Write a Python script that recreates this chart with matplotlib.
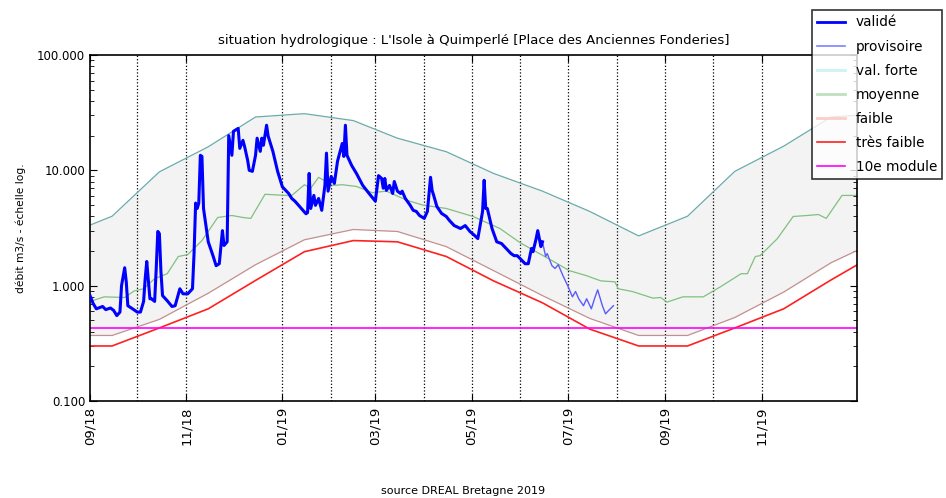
import matplotlib
matplotlib.use("Agg")
import matplotlib.pyplot as plt
import matplotlib.dates as mdates
from matplotlib.lines import Line2D
from matplotlib.ticker import FixedLocator, FormatStrFormatter, LogLocator, NullFormatter
import pandas as pd

# --- valeurs ---
valide_dates = [
    "2018-09-01", "2018-09-03", "2018-09-05", "2018-09-09", "2018-09-11", "2018-09-14",
    "2018-09-16", "2018-09-18", "2018-09-20", "2018-09-21", "2018-09-23", "2018-09-24",
    "2018-09-25", "2018-09-28", "2018-10-01", "2018-10-03", "2018-10-05", "2018-10-06",
    "2018-10-07", "2018-10-09", "2018-10-10", "2018-10-12", "2018-10-13", "2018-10-14",
    "2018-10-15", "2018-10-16", "2018-10-17", "2018-10-20", "2018-10-23", "2018-10-25",
    "2018-10-28", "2018-10-30", "2018-11-02", "2018-11-05", "2018-11-06", "2018-11-07",
    "2018-11-08", "2018-11-09", "2018-11-10", "2018-11-11", "2018-11-12", "2018-11-15",
    "2018-11-18", "2018-11-20", "2018-11-22", "2018-11-24", "2018-11-25", "2018-11-27",
    "2018-11-28", "2018-11-30", "2018-12-01", "2018-12-04", "2018-12-05", "2018-12-07",
    "2018-12-08", "2018-12-10", "2018-12-11", "2018-12-13", "2018-12-15", "2018-12-16",
    "2018-12-18", "2018-12-19", "2018-12-20", "2018-12-22", "2018-12-23", "2018-12-26",
    "2018-12-29", "2019-01-01", "2019-01-05", "2019-01-07", "2019-01-09", "2019-01-13",
    "2019-01-16", "2019-01-17", "2019-01-18", "2019-01-19", "2019-01-21", "2019-01-22",
    "2019-01-24", "2019-01-26", "2019-01-28", "2019-01-29", "2019-01-30", "2019-02-01",
    "2019-02-03", "2019-02-05", "2019-02-08", "2019-02-09", "2019-02-10", "2019-02-11",
    "2019-02-14", "2019-02-17", "2019-02-21", "2019-02-25", "2019-03-01", "2019-03-02",
    "2019-03-03", "2019-03-05", "2019-03-06", "2019-03-07", "2019-03-08", "2019-03-10",
    "2019-03-12", "2019-03-13", "2019-03-15", "2019-03-17", "2019-03-18", "2019-03-20",
    "2019-03-23", "2019-03-25", "2019-03-27", "2019-03-29", "2019-04-01", "2019-04-03",
    "2019-04-05", "2019-04-06", "2019-04-07", "2019-04-09", "2019-04-12", "2019-04-15",
    "2019-04-17", "2019-04-20", "2019-04-24", "2019-04-27", "2019-04-30", "2019-05-03",
    "2019-05-05", "2019-05-08", "2019-05-09", "2019-05-10", "2019-05-11", "2019-05-14",
    "2019-05-17", "2019-05-20", "2019-05-23", "2019-05-26", "2019-05-28", "2019-05-30",
    "2019-06-02", "2019-06-04", "2019-06-06", "2019-06-08", "2019-06-09", "2019-06-11",
    "2019-06-12", "2019-06-14", "2019-06-15",
]
valide_debit = [
    0.82, 0.70, 0.63, 0.66, 0.62, 0.64,
    0.61, 0.55, 0.59, 1.00, 1.43, 1.08,
    0.67, 0.63, 0.59, 0.59, 0.73, 1.15,
    1.62, 0.77, 0.77, 0.73, 1.40, 2.95,
    2.83, 1.32, 0.82, 0.74, 0.66, 0.67,
    0.94, 0.85, 0.85, 0.94, 1.90, 5.2,
    4.67, 5.2, 13.5, 13.2, 4.67, 2.4,
    1.82, 1.49, 1.55, 3.0, 2.23, 2.4,
    20.0, 13.5, 21.8, 23.1, 15.5, 18.2,
    16.2, 12.2, 10.0, 9.8, 13.5, 19.0,
    14.6, 19.0, 16.5, 24.6, 19.8, 14.6,
    9.8, 7.2, 6.3, 5.7, 5.4, 4.67,
    4.2, 4.3, 9.4, 4.67, 6.06, 4.97,
    5.7, 4.5, 7.4, 14.1, 6.6, 8.85,
    7.7, 12.0, 17.1, 13.2, 24.6, 13.5,
    11.0, 9.4, 7.4, 6.3, 5.4, 7.0,
    9.0, 8.5, 7.0, 8.5, 6.7, 7.4,
    6.3, 8.0, 6.6, 6.3, 6.6, 5.7,
    5.0, 4.5, 4.4, 4.06, 3.83, 4.4,
    8.7, 6.7, 6.06, 4.86, 4.23, 3.98,
    3.67, 3.32, 3.13, 3.32, 2.95, 2.72,
    2.56, 4.4, 8.2, 4.67, 4.67, 3.13,
    2.4, 2.32, 2.1, 1.9, 1.82, 1.82,
    1.65, 1.55, 1.55, 2.1, 1.97, 2.56,
    3.0, 2.18, 2.4,
]

provisoire_dates = [
    "2019-06-15", "2019-06-17", "2019-06-18", "2019-06-21", "2019-06-23", "2019-06-25",
    "2019-06-28", "2019-07-01", "2019-07-04", "2019-07-06", "2019-07-08", "2019-07-11",
    "2019-07-13", "2019-07-16", "2019-07-18", "2019-07-20", "2019-07-23", "2019-07-25",
    "2019-07-27", "2019-07-30",
]
provisoire_debit = [
    2.4, 1.79, 1.9, 1.49, 1.41, 1.52,
    1.22, 1.0, 0.80, 0.89, 0.77, 0.67,
    0.77, 0.63, 0.77, 0.92, 0.67, 0.57,
    0.61, 0.67,
]

# valeurs mensuelles (au 15 du mois)
mois_dates = [
    "2018-08-15", "2018-09-15", "2018-10-15", "2018-11-15", "2018-12-15", "2019-01-15",
    "2019-02-15", "2019-03-15", "2019-04-15", "2019-05-15", "2019-06-15", "2019-07-15",
    "2019-08-15", "2019-09-15", "2019-10-15", "2019-11-15", "2019-12-15", "2020-01-15",
]
val_forte = [2.7, 4.0, 9.7, 16.0, 29.0, 31.0, 27.0, 19.0, 14.5, 9.4, 6.6, 4.4,
             2.7, 4.0, 9.8, 16.2, 29.0, 31.0]
faible = [0.37, 0.37, 0.51, 0.86, 1.52, 2.5, 3.07, 2.95, 2.18, 1.35, 0.82, 0.52,
          0.37, 0.37, 0.53, 0.88, 1.58, 2.5]
tres_faible = [0.30, 0.30, 0.43, 0.63, 1.11, 1.97, 2.46, 2.4, 1.79, 1.1, 0.71, 0.42,
               0.30, 0.30, 0.43, 0.63, 1.12, 1.97]

moyenne_dates = [
    "2018-09-01", "2018-09-10", "2018-09-23", "2018-09-29", "2018-10-05", "2018-10-12",
    "2018-10-20", "2018-10-27", "2018-11-02", "2018-11-11", "2018-11-21", "2018-11-30",
    "2018-12-07", "2018-12-12", "2018-12-21", "2019-01-03", "2019-01-07", "2019-01-15",
    "2019-01-19", "2019-01-24", "2019-02-02", "2019-02-08", "2019-02-17", "2019-02-27",
    "2019-03-08", "2019-03-21", "2019-03-31", "2019-04-15", "2019-05-02", "2019-05-19",
    "2019-06-01", "2019-06-13", "2019-06-21", "2019-07-02", "2019-07-13", "2019-07-22",
    "2019-07-31", "2019-08-02", "2019-08-11", "2019-08-24", "2019-08-29", "2019-09-02",
    "2019-09-12", "2019-09-25", "2019-10-06", "2019-10-19", "2019-10-23", "2019-10-28",
    "2019-10-31", "2019-11-11", "2019-11-21", "2019-11-30", "2019-12-07", "2019-12-12",
    "2019-12-22", "2020-01-01",
]
moyenne = [
    0.73, 0.80, 0.79, 0.90, 0.94, 1.15,
    1.27, 1.79, 1.86, 2.46, 3.9, 4.06,
    3.9, 3.83, 6.2, 6.06, 6.06, 7.5,
    7.0, 8.7, 7.4, 7.5, 7.25, 6.4,
    6.6, 5.5, 5.0, 4.67, 3.98, 3.13,
    2.35, 1.9, 1.65, 1.35, 1.22, 1.1,
    1.08, 0.94, 0.89, 0.78, 0.79, 0.72,
    0.80, 0.80, 0.98, 1.27, 1.27, 1.79,
    1.82, 2.56, 3.98, 4.06, 4.14, 3.83,
    6.06, 6.06,
]

module_10e = 0.43

valide_x = pd.to_datetime(valide_dates)
prov_x = pd.to_datetime(provisoire_dates)
mois_x = pd.to_datetime(mois_dates)
moy_x = pd.to_datetime(moyenne_dates)

fig = plt.figure(figsize=(9.46, 4.98), dpi=100)
ax = fig.add_axes([90 / 946, 1 - 401 / 498, 767 / 946, 346 / 498])

ax.fill_between(mois_x, faible, val_forte, color="#f3f3f3", lw=0, zorder=1)
ax.plot(mois_x, val_forte, color="#6aabab", lw=0.9, zorder=2)
ax.plot(moy_x, moyenne, color="#80c080", lw=0.9, zorder=2)
ax.plot(mois_x, faible, color="#c49090", lw=0.9, zorder=2)
ax.plot(mois_x, tres_faible, color="#ff2020", lw=1.2, zorder=2)
ax.axhline(module_10e, color="#ff00ff", lw=1.2, zorder=2)
ax.plot(prov_x, provisoire_debit, color="#5a5aff", lw=1.0, zorder=3)
ax.plot(valide_x, valide_debit, color="#0000ff", lw=2.2, zorder=4)

# quadrillage pointillé aux débuts de mois
grid_months = [m for m in pd.date_range("2018-10-01", "2019-11-01", freq="MS") if m.month != 12]
for m in grid_months:
    ax.axvline(m, color="black", ls=":", lw=0.9, zorder=1.5)

ax.set_yscale("log")
ax.set_ylim(0.1, 100)
ax.set_xlim(pd.Timestamp("2018-09-01"), pd.Timestamp("2019-12-31 12:00"))

ax.yaxis.set_major_locator(FixedLocator([0.1, 1, 10, 100]))
ax.yaxis.set_major_formatter(FormatStrFormatter("%.3f"))
ax.yaxis.set_minor_locator(LogLocator(base=10, subs=range(2, 10)))
ax.yaxis.set_minor_formatter(NullFormatter())

ax.xaxis.set_major_locator(mdates.MonthLocator(bymonth=[1, 3, 5, 7, 9, 11]))
ax.xaxis.set_major_formatter(mdates.DateFormatter("%m/%y"))
ax.tick_params(axis="x", labelrotation=90, labelsize=9.5, pad=4)
ax.tick_params(axis="y", labelsize=8.5)
ax.tick_params(which="both", direction="in", top=True, right=True)
ax.tick_params(which="major", length=5)
ax.tick_params(which="minor", length=3)
for s in ax.spines.values():
    s.set_linewidth(1.2)

ax.set_title("situation hydrologique : L'Isole à Quimperlé [Place des Anciennes Fonderies]",
             fontsize=9.5, pad=8)
ax.set_ylabel("débit m3/s - échelle log.", fontsize=7.7, labelpad=8)

handles = [
    Line2D([], [], color="#0000ff", lw=2),
    Line2D([], [], color="#8080ff", lw=1.2),
    Line2D([], [], color="#ccf2f2", lw=2),
    Line2D([], [], color="#bfe0bf", lw=2),
    Line2D([], [], color="#ffcccc", lw=2),
    Line2D([], [], color="#ff2020", lw=1.2),
    Line2D([], [], color="#ff00ff", lw=1.2),
]
labels = ["validé", "provisoire", "val. forte", "moyenne", "faible", "très faible", "10e module"]
leg = fig.legend(handles, labels, loc="upper left", bbox_to_anchor=(812 / 946, 1 - 10 / 498),
                 bbox_transform=fig.transFigure, borderaxespad=0, fontsize=9.8, frameon=True,
                 fancybox=False, labelspacing=0.74, handlelength=2.0, handletextpad=0.8,
                 borderpad=0.4)
leg.get_frame().set_edgecolor("black")
leg.get_frame().set_linewidth(1.2)

fig.text(463 / 946, 1 - 491 / 498, "source DREAL Bretagne 2019", ha="center", va="center", fontsize=8)

fig.savefig("out.png", dpi=100)
